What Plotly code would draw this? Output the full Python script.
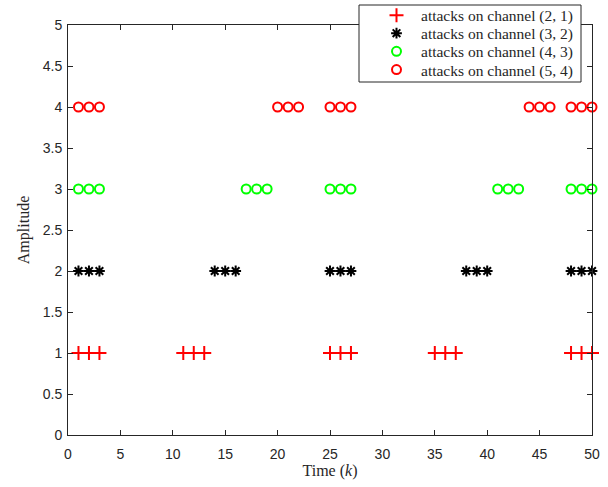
import plotly.graph_objects as go

# data
t_21 = [1, 2, 3, 11, 12, 13, 25, 26, 27, 35, 36, 37, 48, 49, 50]
t_32 = [1, 2, 3, 14, 15, 16, 25, 26, 27, 38, 39, 40, 48, 49, 50]
t_43 = [1, 2, 3, 17, 18, 19, 25, 26, 27, 41, 42, 43, 48, 49, 50]
t_54 = [1, 2, 3, 20, 21, 22, 25, 26, 27, 44, 45, 46, 48, 49, 50]
amp_21, amp_32, amp_43, amp_54 = 1, 2, 3, 4
names = ["attacks on channel (2, 1)", "attacks on channel (3, 2)",
         "attacks on channel (4, 3)", "attacks on channel (5, 4)"]
x_ticks = list(range(0, 51, 5))
y_ticks = [i * 0.5 for i in range(11)]

series = [
    (t_21, amp_21, names[0], "cross-thin-open", "#ff0000", 10),
    (t_32, amp_32, names[1], "asterisk-open", "#000000", 9),
    (t_43, amp_43, names[2], "circle-open", "#00ff00", 9),
    (t_54, amp_54, names[3], "circle-open", "#ff0000", 9),
]

axcol = "#262626"
serif = "Liberation Serif, DejaVu Serif"

# plot area in pixels (for placing legend rows)
PL, PR, PT, PB = 68, 592, 25, 435
def px_y(y):
    return (PB - y) / (PB - PT)
def px_x(x):
    return (x - PL) / (PR - PL)

legend_rows_px = [15.7, 33.6, 51.7, 70.0]

fig = go.Figure()
legend_layouts = {}
for i, (xs, a, nm, sym, col, sz) in enumerate(series):
    lname = "legend" if i == 0 else "legend%d" % (i + 1)
    fig.add_trace(go.Scatter(
        x=xs, y=[a] * len(xs), mode="markers", name=nm, cliponaxis=False,
        legend=lname,
        marker=dict(symbol=sym, size=sz, color=col, line=dict(width=2, color=col)),
    ))
    legend_layouts[lname] = dict(
        x=px_x(372), y=px_y(legend_rows_px[i]), xanchor="left", yanchor="middle",
        bgcolor="rgba(0,0,0,0)", borderwidth=0,
        font=dict(family=serif, size=15.5, color=axcol),
        itemwidth=39, tracegroupgap=0,
    )

# legend box drawn as a shape (paper coords)
fig.add_shape(type="rect", xref="paper", yref="paper",
              x0=px_x(359), x1=px_x(581), y0=px_y(82), y1=px_y(5),
              fillcolor="white", line=dict(color=axcol, width=1), layer="above")

fig.update_layout(
    width=608, height=487,
    margin=dict(l=PL, r=608 - PR, t=PT, b=487 - PB, autoexpand=False),
    paper_bgcolor="white", plot_bgcolor="white",
    font=dict(family="Liberation Sans, Arial", size=14, color=axcol),
    showlegend=True,
    xaxis=dict(
        range=[0, 50], tickvals=x_ticks, showgrid=False, zeroline=False,
        showline=True, linecolor=axcol, linewidth=1, mirror="ticks",
        ticks="inside", ticklen=5, tickcolor=axcol, ticklabelstandoff=6,
        title=dict(text="Time (<i>k</i>)", font=dict(family=serif, size=16), standoff=4),
    ),
    yaxis=dict(
        range=[0, 5], tickvals=y_ticks, ticktext=[("%g" % v) for v in y_ticks],
        showgrid=False, zeroline=False,
        showline=True, linecolor=axcol, linewidth=1, mirror="ticks",
        ticks="inside", ticklen=5, tickcolor=axcol, ticklabelstandoff=2,
        title=dict(text="Amplitude", font=dict(family=serif, size=16), standoff=9),
    ),
    **legend_layouts,
)

fig.write_html("out.html")
